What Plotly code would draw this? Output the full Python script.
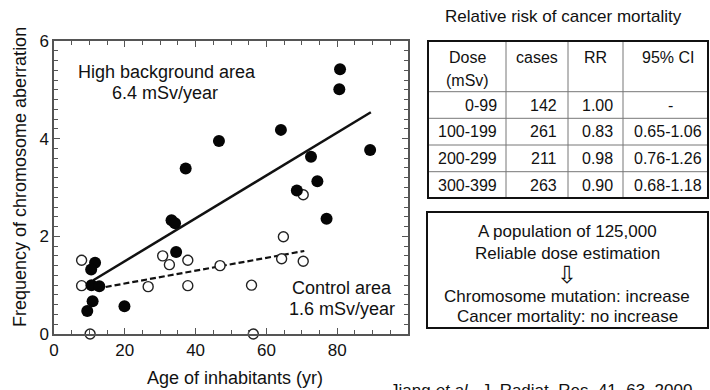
import plotly.graph_objects as go

# ---------------- data ----------------
high_age = [80.8, 80.6, 64.1, 46.6, 89.3, 72.6, 37.2, 74.4, 68.6, 77.0, 33.2, 34.2,
            34.5, 11.6, 10.5, 10.6, 12.8, 10.9, 9.4, 19.9]
high_freq = [5.42, 5.01, 4.18, 3.95, 3.77, 3.63, 3.39, 3.13, 2.94, 2.36, 2.33, 2.27,
             1.68, 1.46, 1.32, 1.00, 0.98, 0.67, 0.47, 0.57]
ctrl_age = [7.8, 7.8, 10.2, 26.6, 30.7, 32.6, 37.8, 37.8, 46.9, 55.8, 56.3, 64.8,
            64.3, 70.4, 70.4]
ctrl_freq = [1.51, 0.99, 0.0, 0.97, 1.60, 1.42, 1.51, 0.99, 1.40, 1.00, 0.0, 1.99,
             1.54, 1.49, 2.85]
high_fit_x = [11.1, 89.5]
high_fit_y = [1.10, 4.54]
ctrl_fit_x = [12.1, 70.7]
ctrl_fit_y = [0.93, 1.70]

x_ticks = [0, 20, 40, 60, 80]
y_ticks = [0, 2, 4, 6]

table_title = "Relative risk of cancer mortality"
table_header = ["Dose<br>(mSv)", "cases", "RR", "95% CI"]
dose_groups = ["0-99", "100-199", "200-299", "300-399"]
cases = ["142", "261", "211", "263"]
rr = ["1.00", "0.83", "0.98", "0.90"]
ci = ["-", "0.65-1.06", "0.76-1.26", "0.68-1.18"]

box_lines = ["A population of 125,000", "Reliable dose estimation", "\u21e9",
             "Chromosome mutation: increase", "Cancer mortality: no increase"]
citation = "Jiang <i>et al.</i>, J. Radiat. Res. 41, 63, 2000"

# ---------------- layout helpers ----------------
FONT = "Liberation Sans, Arial, Helvetica, sans-serif"
L, R, T, B = 54, 408, 41, 334
W, H = 710, 390


def xp(px):
    return (px - L) / (R - L)


def yp(py):
    return (B - py) / (B - T)


fig = go.Figure()

fig.add_trace(go.Scatter(x=high_fit_x, y=high_fit_y, mode="lines",
                         line=dict(color="#111", width=2.5), hoverinfo="skip"))
fig.add_trace(go.Scatter(x=ctrl_fit_x, y=ctrl_fit_y, mode="lines",
                         line=dict(color="#111", width=2.2, dash="6px,3px"), hoverinfo="skip"))
fig.add_trace(go.Scatter(x=ctrl_age, y=ctrl_freq, mode="markers",
                         marker=dict(size=10, color="white", symbol="circle",
                                     line=dict(color="#222", width=1.4)),
                         cliponaxis=False))
fig.add_trace(go.Scatter(x=high_age, y=high_freq, mode="markers",
                         marker=dict(size=12, color="#050505", line=dict(width=0)),
                         cliponaxis=False))

axis_common = dict(showline=True, linecolor="#555", linewidth=1.5, mirror="ticks",
                   ticks="inside", ticklen=6, tickwidth=1.2, tickcolor="#555",
                   showgrid=False, zeroline=False,
                   tickfont=dict(family=FONT, size=17, color="#111"))

fig.update_xaxes(range=[0, 100], tickvals=x_ticks, ticktext=[str(v) for v in x_ticks],
                 minor=dict(dtick=5, ticks="inside", ticklen=4, tickcolor="#555", showgrid=False),
                 **axis_common)
fig.update_yaxes(range=[0, 6], tickvals=y_ticks, ticktext=[str(v) for v in y_ticks],
                 minor=dict(dtick=0.2, ticks="inside", ticklen=4, tickcolor="#555", showgrid=False),
                 **axis_common)

ann = []


def text(px, py, s, size=17, xanchor="center", yanchor="middle", angle=0, family=FONT):
    ann.append(dict(x=xp(px), y=yp(py), xref="paper", yref="paper", text=s,
                    showarrow=False, xanchor=xanchor, yanchor=yanchor, textangle=angle,
                    font=dict(family=family, size=size, color="#111")))


# axis titles
text(20, 177, "Frequency of chromosome aberration", size=18, angle=-90)
text(235, 378, "Age of inhabitants (yr)", size=18)

# in-plot labels
text(167, 72, "High background area", size=18)
text(165, 93, "6.4 mSv/year", size=18)
text(342, 288, "Control area", size=18)
text(342, 309, "1.6 mSv/year", size=18)

# table
tl, tr, tt, tb = 428, 708, 41, 198
col_x = [506, 568, 623]
row_y = [91.7, 118.3, 145, 171.7]
text(563, 17, table_title, size=17)

shapes = []
for cx in col_x:
    shapes.append(dict(type="line", xref="paper", yref="paper", x0=xp(cx), x1=xp(cx),
                       y0=yp(tt), y1=yp(tb), line=dict(color="#777", width=1)))
for ry in row_y:
    shapes.append(dict(type="line", xref="paper", yref="paper", x0=xp(tl), x1=xp(tr),
                       y0=yp(ry), y1=yp(ry), line=dict(color="#777", width=1)))
shapes.append(dict(type="rect", xref="paper", yref="paper", x0=xp(tl), x1=xp(tr),
                   y0=yp(tt), y1=yp(tb), line=dict(color="#111", width=2)))

text(467, 57, "Dose", size=16)
text(467, 80, "(mSv)", size=16)
text(537, 57, table_header[1], size=16)
text(595.5, 57, table_header[2], size=16)
text(668, 57, table_header[3], size=16)

row_c = [105, 131.7, 158.3, 185]
for i in range(4):
    text(499, row_c[i], dose_groups[i], size=16, xanchor="right")
    text(559, row_c[i], cases[i], size=16, xanchor="right")
    text(615, row_c[i], rr[i], size=16, xanchor="right")
    text(668 if ci[i] != "-" else 670, row_c[i], ci[i], size=16)

# summary box
shapes.append(dict(type="rect", xref="paper", yref="paper", x0=xp(427), x1=xp(708),
                   y0=yp(212), y1=yp(328), line=dict(color="#111", width=2)))
box_y = [231, 253, 275, 296, 316]
for s, by in zip(box_lines, box_y):
    if s == "\u21e9":
        text(567, by, s, size=24, family="DejaVu Sans, sans-serif")
    else:
        text(567, by, s, size=17)

# citation (partly cut at bottom, as in the reference)
text(388, 379, citation, size=17, xanchor="left", yanchor="top")

fig.update_layout(width=W, height=H, margin=dict(l=L, r=W - R, t=T, b=H - B),
                  paper_bgcolor="white", plot_bgcolor="white", showlegend=False,
                  annotations=ann, shapes=shapes, font=dict(family=FONT))

fig.write_html("out.html")
